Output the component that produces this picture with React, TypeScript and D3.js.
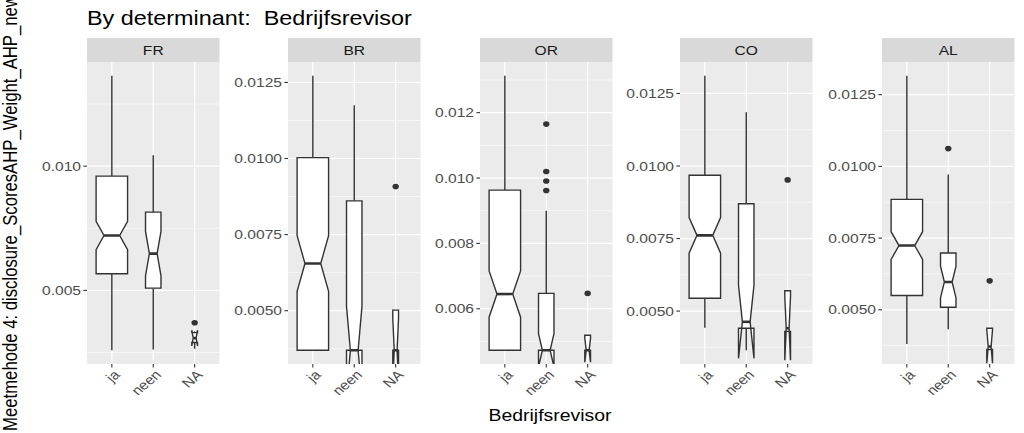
import React from "react";
import * as d3 from "d3";

// ---------------- data ----------------
const panels = ["FR", "BR", "OR", "CO", "AL"];
const groups = ["ja", "neen", "NA"];
const groupN = [120, 29, 4];

// rows: panels (FR, BR, OR, CO, AL); columns: groups (ja, neen, NA)
const whiskerLow = [
  [0.00259, 0.00262, 0.00265],
  [0.0037, 0.0037, 0.0037],
  [0.00473, 0.00473, 0.00473],
  [0.00443, 0.00365, 0.0043],
  [0.00381, 0.00432, 0.00359],
];
const quartile1 = [
  [0.00567, 0.00509, 0.0029],
  [0.0037, 0.0037, 0.0037],
  [0.00473, 0.00473, 0.00473],
  [0.00544, 0.00441, 0.0043],
  [0.0055, 0.00509, 0.00362],
];
const medians = [
  [0.00721, 0.00648, 0.00308],
  [0.00655, 0.0037, 0.0037],
  [0.00645, 0.00473, 0.00473],
  [0.00761, 0.00463, 0.00441],
  [0.00724, 0.00597, 0.00372],
];
const quartile3 = [
  [0.0096, 0.00815, 0.0033],
  [0.01003, 0.00861, 0.00502],
  [0.00963, 0.00647, 0.00519],
  [0.00968, 0.0087, 0.0057],
  [0.00885, 0.00698, 0.00436],
];
const whiskerHigh = [
  [0.01364, 0.01044, 0.00335],
  [0.01272, 0.01175, 0.00502],
  [0.01313, 0.009, 0.00519],
  [0.01311, 0.01185, 0.0057],
  [0.01316, 0.00972, 0.00436],
];
// [group index, value]
const outliers: [number, number][][] = [
  [[2, 0.0037]],
  [[2, 0.00908]],
  [[1, 0.01165], [1, 0.0102], [1, 0.00991], [1, 0.00962], [2, 0.00647]],
  [[2, 0.00952]],
  [[1, 0.01062], [2, 0.00601]],
];

const yTicks = [
  [0.005, 0.01],
  [0.005, 0.0075, 0.01, 0.0125],
  [0.006, 0.008, 0.01, 0.012],
  [0.005, 0.0075, 0.01, 0.0125],
  [0.005, 0.0075, 0.01, 0.0125],
];
const yTickLabels = [
  ["0.005", "0.010"],
  ["0.0050", "0.0075", "0.0100", "0.0125"],
  ["0.006", "0.008", "0.010", "0.012"],
  ["0.0050", "0.0075", "0.0100", "0.0125"],
  ["0.0050", "0.0075", "0.0100", "0.0125"],
];

const titleText = "By determinant:  Bedrijfsrevisor";
const xTitle = "Bedrijfsrevisor";
const yTitle = "Meetmehode 4: disclosure_ScoresAHP_Weight_AHP_new";

// ---------------- layout ----------------
const W = 1024;
const H = 433;
const panelLefts = [87, 288, 480, 680, 882];
const panelW = 132.5;
const stripTop = 38;
const panelTop = 62;
const panelBottom = 364;
const SX = 1.2;
const FONT = "'Liberation Sans', Arial, Helvetica, sans-serif";
const LINE = "#333333";

export default function App() {
  const maxN = d3.max(groupN) as number;
  return (
    <svg
      width={W}
      height={H}
      style={{ position: "absolute", left: 0, top: 0, background: "#fff" }}
      fontFamily={FONT}
    >
      <defs>
        {panels.map((p, pi) => (
          <clipPath id={`clip-${p}`} key={p}>
            <rect x={panelLefts[pi]} y={panelTop} width={panelW} height={panelBottom - panelTop} />
          </clipPath>
        ))}
      </defs>
      {/* title */}
      <text
        transform={`translate(87,25) scale(${SX},1)`}
        fontSize={19.5}
        fill="#000"
        style={{ whiteSpace: "pre" }}
      >
        {titleText}
      </text>
      {/* y title */}
      <text
        transform={`translate(17,${(panelTop + panelBottom) / 2}) scale(${SX},1) rotate(-90)`}
        fontSize={16.7}
        textAnchor="middle"
        fill="#000"
      >
        {yTitle}
      </text>
      {/* x title */}
      <text transform={`translate(550,421) scale(${SX},1)`} fontSize={16.2} textAnchor="middle" fill="#000">
        {xTitle}
      </text>
      {panels.map((p, pi) => {
        const left = panelLefts[pi];
        const vals: number[] = [
          ...whiskerLow[pi],
          ...whiskerHigh[pi],
          ...outliers[pi].map((o) => o[1]),
        ];
        const [mn, mx] = d3.extent(vals) as [number, number];
        const pad = (mx - mn) * 0.05;
        const y = d3.scaleLinear().domain([mn - pad, mx + pad]).range([panelBottom, panelTop]);
        const x = d3.scalePoint<string>().domain(groups).range([left, left + panelW]).padding(0.6);
        const step = x.step();
        const ticks = yTicks[pi];
        const tstep = ticks[1] - ticks[0];
        const minors = [ticks[0] - tstep / 2, ...ticks.map((t) => t + tstep / 2)].filter(
          (v) => v > y.domain()[0] && v < y.domain()[1]
        );
        return (
          <g key={p}>
            {/* strip */}
            <rect x={left} y={stripTop} width={panelW} height={panelTop - stripTop} fill="#D9D9D9" />
            <text
              transform={`translate(${left + panelW / 2},${(stripTop + panelTop) / 2 + 4.5}) scale(${SX},1)`}
              fontSize={13}
              textAnchor="middle"
              fill="#1A1A1A"
            >
              {p}
            </text>
            {/* panel background */}
            <rect x={left} y={panelTop} width={panelW} height={panelBottom - panelTop} fill="#EBEBEB" />
            {minors.map((v) => (
              <line key={"mi" + v} x1={left} x2={left + panelW} y1={y(v)} y2={y(v)} stroke="#fff" strokeWidth={0.6} />
            ))}
            {ticks.map((v) => (
              <line key={"ma" + v} x1={left} x2={left + panelW} y1={y(v)} y2={y(v)} stroke="#fff" strokeWidth={1.2} />
            ))}
            {groups.map((g) => (
              <line key={"vg" + g} x1={x(g)} x2={x(g)} y1={panelTop} y2={panelBottom} stroke="#fff" strokeWidth={1.2} />
            ))}
            {/* boxes */}
            <g clipPath={`url(#clip-${p})`}>
              {outliers[pi].map(([gi, v], k) => (
                <ellipse key={"o" + k} cx={x(groups[gi])} cy={y(v)} rx={3.2} ry={2.8} fill={LINE} />
              ))}
              {groups.map((g, gi) => {
                const cx = x(g) as number;
                const bw = 0.76 * step * Math.sqrt(groupN[gi] / maxN);
                const xmin = cx - bw / 2;
                const xmax = cx + bw / 2;
                const lo = quartile1[pi][gi];
                const hi = quartile3[pi][gi];
                const md = medians[pi][gi];
                const half = (1.58 * (hi - lo)) / Math.sqrt(groupN[gi]);
                const nU = md + half;
                const nL = md - half;
                const ind = bw / 4;
                const pts: [number, number][] = [
                  [xmin, y(hi)],
                  [xmin, y(nU)],
                  [xmin + ind, y(md)],
                  [xmin, y(nL)],
                  [xmin, y(lo)],
                  [xmax, y(lo)],
                  [xmax, y(nL)],
                  [xmax - ind, y(md)],
                  [xmax, y(nU)],
                  [xmax, y(hi)],
                  [xmin, y(hi)],
                ];
                const path = d3.line()(pts) as string;
                return (
                  <g key={g}>
                    <line x1={cx} x2={cx} y1={y(hi)} y2={y(whiskerHigh[pi][gi])} stroke={LINE} strokeWidth={1.4} />
                    <line x1={cx} x2={cx} y1={y(lo)} y2={y(whiskerLow[pi][gi])} stroke={LINE} strokeWidth={1.4} />
                    <path d={path + "Z"} fill="#fff" stroke={LINE} strokeWidth={1.4} strokeLinejoin="miter" />
                    <line x1={xmin + ind} x2={xmax - ind} y1={y(md)} y2={y(md)} stroke={LINE} strokeWidth={2.6} />
                  </g>
                );
              })}
            </g>
            {/* y axis */}
            {ticks.map((v, ti) => (
              <g key={"yt" + v}>
                <line x1={left - 3.6} x2={left} y1={y(v)} y2={y(v)} stroke={LINE} strokeWidth={1.1} />
                <text
                  transform={`translate(${left - 6},${y(v) + 4.6}) scale(${SX},1)`}
                  fontSize={13}
                  textAnchor="end"
                  fill="#4D4D4D"
                >
                  {yTickLabels[pi][ti]}
                </text>
              </g>
            ))}
            {/* x axis */}
            {groups.map((g) => (
              <g key={"xt" + g}>
                <line x1={x(g)} x2={x(g)} y1={panelBottom} y2={panelBottom + 3.6} stroke={LINE} strokeWidth={1.1} />
                <text
                  transform={`translate(${(x(g) as number) + 1},${panelBottom + 5}) scale(${SX},1) rotate(-45)`}
                  fontSize={13}
                  textAnchor="end"
                  dy="0.72em"
                  fill="#4D4D4D"
                >
                  {g}
                </text>
              </g>
            ))}
          </g>
        );
      })}
    </svg>
  );
}
